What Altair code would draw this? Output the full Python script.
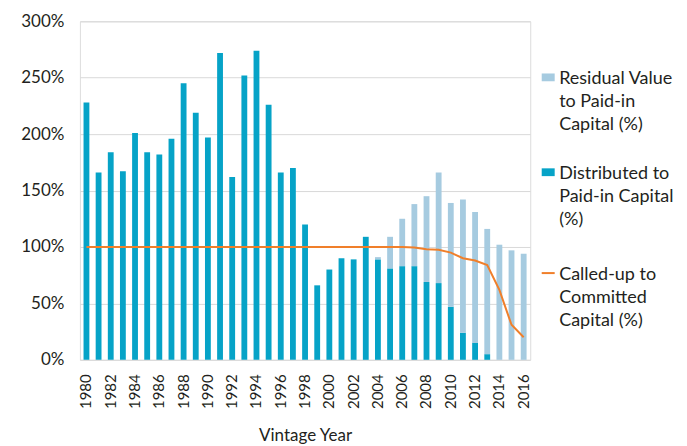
import altair as alt
import pandas as pd

years = list(range(1980, 2017))
dpi = [228, 166, 184, 167, 201, 184, 182, 196, 245, 219, 197, 272, 162, 252, 274, 226,
       166, 170, 120, 66, 80, 90, 89, 109, 89, 81, 83, 83, 69, 68, 47, 24, 15, 5, 0, 0, 0]
rvpi = [0] * 24 + [2, 28, 42, 55, 76, 98, 92, 118, 116, 111, 102, 97, 94]
called = [100] * 27 + [99.5, 98, 97.5, 95, 90, 88, 84, 62, 31, 20]

RV = "Residual Value|to Paid-in|Capital (%)"
DP = "Distributed to|Paid-in Capital|(%)"
CU = "Called-up to|Committed|Capital (%)"

rows = []
for y, d, r in zip(years, dpi, rvpi):
    rows.append({"year": y, "series": DP, "value": d, "ord": 0})
    rows.append({"year": y, "series": RV, "value": r, "ord": 1})
bars_df = pd.DataFrame(rows)
line_df = pd.DataFrame({"year": years, "value": called, "series": [CU] * len(years)})

FONT = "Lato"
TXT = "#231f20"

x_scale = alt.Scale(type="band", paddingInner=0.52, paddingOuter=0.3)
x_enc = alt.X("year:O", title="Vintage Year", scale=x_scale,
              axis=alt.Axis(values=list(range(1980, 2017, 2)), labelAngle=270,
                            labelFontSize=15, labelColor=TXT, ticks=False, domain=False,
                            labelPadding=14, titleFontSize=17, titleFontWeight="normal",
                            titleColor=TXT, titlePadding=19, grid=False))

y_scale = alt.Scale(domain=[0, 300])

bars = alt.Chart(bars_df).mark_bar().encode(
    x=x_enc,
    y=alt.Y("value:Q", stack="zero", scale=y_scale, title=None,
            axis=alt.Axis(values=[0, 50, 100, 150, 200, 250, 300],
                          labelExpr="datum.value + '%'", labelFontSize=17,
                          labelColor=TXT, ticks=False, domain=False, labelPadding=16,
                          grid=True, gridColor="#d9d9d9", gridWidth=1)),
    color=alt.Color("series:N",
                    scale=alt.Scale(domain=[RV, DP], range=["#a6cbe0", "#06a3c7"]),
                    legend=alt.Legend(title=None, labelExpr="split(datum.label, '|')",
                                      symbolType="M-1,0.5H1V1.7H-1Z", symbolSize=169,
                                      symbolStrokeWidth=0,
                                      labelFontSize=18, labelColor=TXT, labelLimit=300,
                                      rowPadding=22, orient="none", legendX=460,
                                      legendY=40, padding=0,
                                      labelBaseline="top", labelOffset=2)),
    order=alt.Order("ord:Q"),
)

line = alt.Chart(line_df).mark_line(strokeWidth=2).encode(
    x=alt.X("year:O", scale=x_scale),
    y=alt.Y("value:Q", scale=y_scale),
    stroke=alt.Stroke("series:N", scale=alt.Scale(domain=[CU], range=["#f07f2a"]),
                      legend=alt.Legend(title=None, labelExpr="split(datum.label, '|')",
                                        symbolType="M-1,1.1H1", symbolSize=169,
                                        symbolStrokeWidth=2,
                                        labelFontSize=18, labelColor=TXT, labelLimit=300,
                                        orient="none", legendX=460, legendY=236,
                                        padding=0, labelBaseline="top", labelOffset=2)),
)

chart = alt.layer(bars, line).resolve_scale(color="independent").properties(
    width=451, height=339, padding={"left": 12, "top": 4, "right": 5, "bottom": 0}
).configure_view(stroke=None).configure(
    font=FONT, style={"guide-label": {"lineHeight": 23}}
)

chart.save("out.html", embed_options={"renderer": "svg", "actions": False})
